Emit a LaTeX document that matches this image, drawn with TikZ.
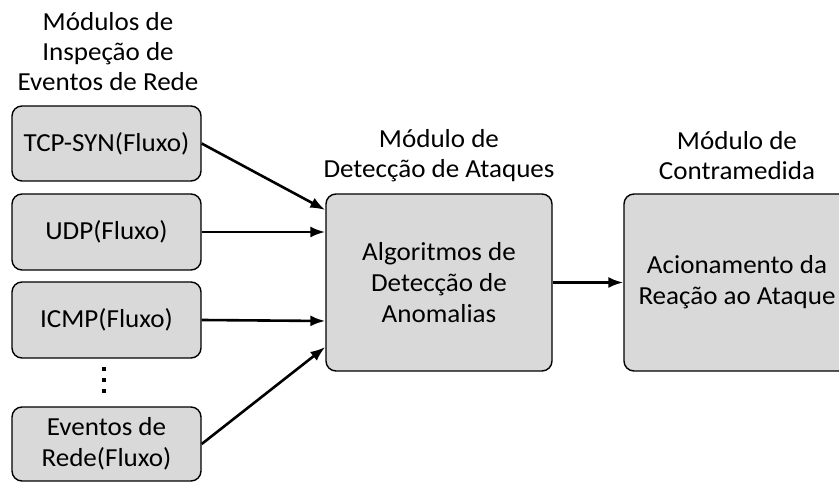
\documentclass[tikz,border=0pt]{standalone}
\usepackage{fontspec}
\setmainfont[FakeStretch=1.04]{Carlito}
\usepackage{tikz}
\usetikzlibrary{arrows.meta}
\usepackage{xcolor}
\definecolor{caixa}{RGB}{217,217,217}
\tikzstyle{arrow} = [line width=2.6pt,-{Latex[length=15pt,width=11pt]}]
\tikzstyle{modulo} = [rectangle, rounded corners=10pt, draw, line width=1.4pt, fill=caixa, align=center, inner sep=0pt, font=\fontsize{26}{31}\selectfont]
\tikzstyle{titulo} = [align=center, inner sep=0pt, font=\fontsize{26}{30}\selectfont]

\begin{document}
\begin{tikzpicture}[x=1pt,y=1pt]
\clip (0,0) rectangle (839,482);

% Modulos de inspecao (coluna da esquerda)
\node[modulo, minimum width=189pt, minimum height=75pt] (tcp) at (106.5,338.5) {TCP-SYN(Fluxo)};
\node[modulo, minimum width=189pt, minimum height=76pt] (udp) at (106.5,250) {UDP(Fluxo)};
\node[modulo, minimum width=189pt, minimum height=76pt] (icmp) at (106.5,162) {ICMP(Fluxo)};
\node[align=center, inner sep=0pt, font=\fontsize{8}{11}\selectfont] (dots) at (104,102) {\rule{4pt}{4pt}\\\rule{4pt}{4pt}\\\rule{4pt}{4pt}};
\node[modulo, minimum width=189pt, minimum height=74pt] (eventos) at (106.5,38) {Eventos de\\Rede(Fluxo)};

% Deteccao e contramedida
\node[modulo, minimum width=226pt, minimum height=177pt] (alg) at (439,199.5) {Algoritmos de\\Detecção de\\Anomalias};
\node[modulo, minimum width=226pt, minimum height=177pt] (reacao) at (737,199.5) {Acionamento da\\Reação ao Ataque};

% Titulos
\node[titulo] (t1) at (108,430) {Módulos de\\Inspeção de\\Eventos de Rede};
\node[titulo] (t2) at (439,326) {Módulo de\\Detecção de Ataques};
\node[titulo] (t3) at (737,326) {Módulo de\\Contramedida};

% Setas
\draw [arrow] (tcp.east) -- ([yshift=72.5pt]alg.west);
\draw [arrow] (udp.east) -- ([yshift=50.5pt]alg.west);
\draw [arrow] (icmp.east) -- ([yshift=-38.5pt]alg.west);
\draw [arrow] (eventos.east) -- ([yshift=-64.5pt]alg.west);
\draw [arrow] (alg.east) -- (reacao.west);

\end{tikzpicture}
\end{document}
